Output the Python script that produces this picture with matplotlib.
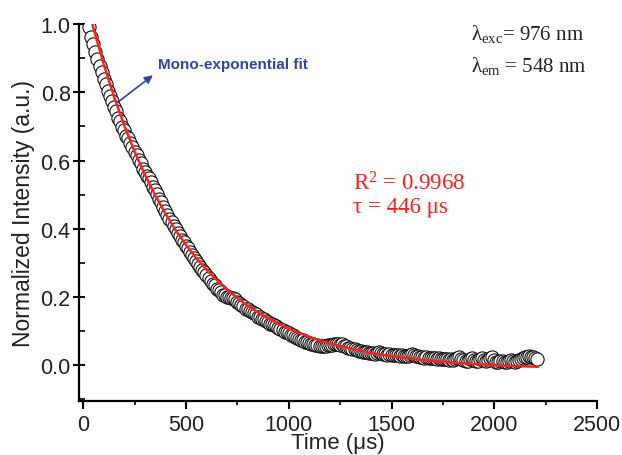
import numpy as np
import matplotlib
matplotlib.use("Agg")
import matplotlib.pyplot as plt
from matplotlib.ticker import MultipleLocator

time_start = 30
time_step = 10
intensity = [
    0.990, 0.962, 0.941, 0.917, 0.899, 0.877, 0.861, 0.840, 0.824, 0.804,
    0.789, 0.774, 0.756, 0.744, 0.726, 0.716, 0.699, 0.690, 0.673, 0.665,
    0.651, 0.640, 0.624, 0.617, 0.603, 0.592, 0.575, 0.568, 0.556, 0.548,
    0.537, 0.522, 0.513, 0.501, 0.487, 0.478, 0.464, 0.452, 0.441, 0.429,
    0.419, 0.408, 0.399, 0.387, 0.379, 0.368, 0.361, 0.350, 0.343, 0.333,
    0.324, 0.316, 0.306, 0.297, 0.288, 0.279, 0.274, 0.264, 0.255, 0.247,
    0.239, 0.235, 0.225, 0.222, 0.215, 0.207, 0.206, 0.199, 0.200, 0.197,
    0.198, 0.195, 0.186, 0.183, 0.176, 0.173, 0.166, 0.164, 0.158, 0.155,
    0.153, 0.150, 0.143, 0.141, 0.136, 0.135, 0.129, 0.127, 0.122, 0.121,
    0.117, 0.114, 0.110, 0.106, 0.104, 0.099, 0.097, 0.094, 0.090, 0.088,
    0.084, 0.080, 0.077, 0.074, 0.073, 0.069, 0.068, 0.065, 0.064, 0.062,
    0.061, 0.060, 0.058, 0.058, 0.057, 0.058, 0.059, 0.060, 0.061, 0.062,
    0.064, 0.063, 0.061, 0.062, 0.058, 0.056, 0.052, 0.050, 0.048, 0.047,
    0.044, 0.042, 0.043, 0.040, 0.039, 0.040, 0.037, 0.035, 0.036, 0.034,
    0.035, 0.038, 0.036, 0.033, 0.034, 0.031, 0.032, 0.030, 0.031, 0.029,
    0.030, 0.028, 0.029, 0.027, 0.028, 0.026, 0.030, 0.033, 0.031, 0.027,
    0.026, 0.024, 0.025, 0.023, 0.024, 0.022, 0.023, 0.021, 0.022, 0.020,
    0.021, 0.019, 0.020, 0.018, 0.019, 0.017, 0.018, 0.016, 0.019, 0.022,
    0.024, 0.018, 0.015, 0.013, 0.014, 0.020, 0.023, 0.016, 0.012, 0.013,
    0.018, 0.022, 0.017, 0.013, 0.015, 0.021, 0.024, 0.016, 0.011, 0.010,
    0.012, 0.013, 0.011, 0.010, 0.012, 0.015, 0.012, 0.011, 0.013, 0.017,
    0.020, 0.022, 0.024, 0.025, 0.026, 0.025, 0.024, 0.022, 0.019,
]
time_us = time_start + time_step * np.arange(len(intensity))

# Mono-exponential fit curve
fit_time = [45, 75, 100, 150, 200, 250, 300, 350, 400, 450, 500, 550, 600,
            700, 800, 900, 1000, 1100, 1200, 1300, 1400, 1500, 1600, 1700,
            1800, 1900, 2000, 2100, 2210]
fit_value = [1.000, 0.935, 0.883, 0.788, 0.703, 0.627, 0.559, 0.499, 0.445,
             0.396, 0.353, 0.314, 0.280, 0.221, 0.174, 0.137, 0.107, 0.083,
             0.064, 0.049, 0.036, 0.027, 0.019, 0.013, 0.008, 0.004, 0.001,
             -0.002, -0.004]

x_ticks = [0, 500, 1000, 1500, 2000, 2500]
y_ticks = [0.0, 0.2, 0.4, 0.6, 0.8, 1.0]

sans = "Liberation Sans"
serif = "Liberation Serif"
blue = "#3344aa"
red = "#ff2020"

fig = plt.figure(figsize=(6.22, 4.56), dpi=100)
ax = fig.add_axes([0.127, 0.118, 0.833, 0.827])

ax.plot(time_us, intensity, "o", mfc="white", mec="#111111", ms=9.5, mew=0.8, zorder=2)
ax.plot(fit_time, fit_value, color=red, lw=1.8, zorder=3)

ax.set_xlim(-20, 2500)
ax.set_ylim(-0.105, 1.0)
ax.set_xticks(x_ticks)
ax.set_yticks(y_ticks)
ax.set_xticklabels([str(v) for v in x_ticks], family=sans, fontsize=15.5, color="#222222")
ax.set_yticklabels([f"{v:.1f}" for v in y_ticks], family=sans, fontsize=15.5, color="#222222")
ax.xaxis.set_minor_locator(MultipleLocator(250))
ax.yaxis.set_minor_locator(MultipleLocator(0.1))
ax.tick_params(axis="x", which="major", direction="out", length=6, width=1.5, pad=3)
ax.tick_params(axis="x", which="minor", direction="out", length=3, width=1.2)
ax.tick_params(axis="y", which="major", direction="inout", length=8, width=1.5, pad=2)
ax.tick_params(axis="y", which="minor", direction="in", length=4, width=1.2)

for side in ["top", "right"]:
    ax.spines[side].set_visible(False)
for side in ["left", "bottom"]:
    ax.spines[side].set_linewidth(1.6)

ax.set_xlabel("Time (\u03bcs)", family=sans, fontsize=16, labelpad=-2, color="#222222")
ax.set_ylabel("Normalized Intensity (a.u.)", family=sans, fontsize=16.5, labelpad=4,
              color="#222222")

# annotations
ax.text(1885, 0.975, r"$\mathregular{\lambda_{exc}}$= 976 nm", family=serif,
        fontsize=15, va="center", ha="left", color="#222222")
ax.text(1885, 0.881, r"$\mathregular{\lambda_{em}}$ = 548 nm", family=serif,
        fontsize=15, va="center", ha="left", color="#222222")
ax.text(1312, 0.536, r"R$\mathregular{^2}$ = 0.9968", family=serif,
        fontsize=16.5, color=red, va="center", ha="left")
ax.text(1312, 0.466, "\u03c4 = 446 \u03bcs", family=serif,
        fontsize=16.5, color=red, va="center", ha="left")

ax.annotate("", xy=(350, 0.855), xytext=(160, 0.767),
            arrowprops=dict(arrowstyle="-|>", color=blue, lw=1.2, mutation_scale=12))
ax.text(364, 0.884, "Mono-exponential fit", family=sans, fontsize=11,
        fontweight="bold", color=blue, va="center", ha="left")

fig.savefig("out.png", dpi=100)
